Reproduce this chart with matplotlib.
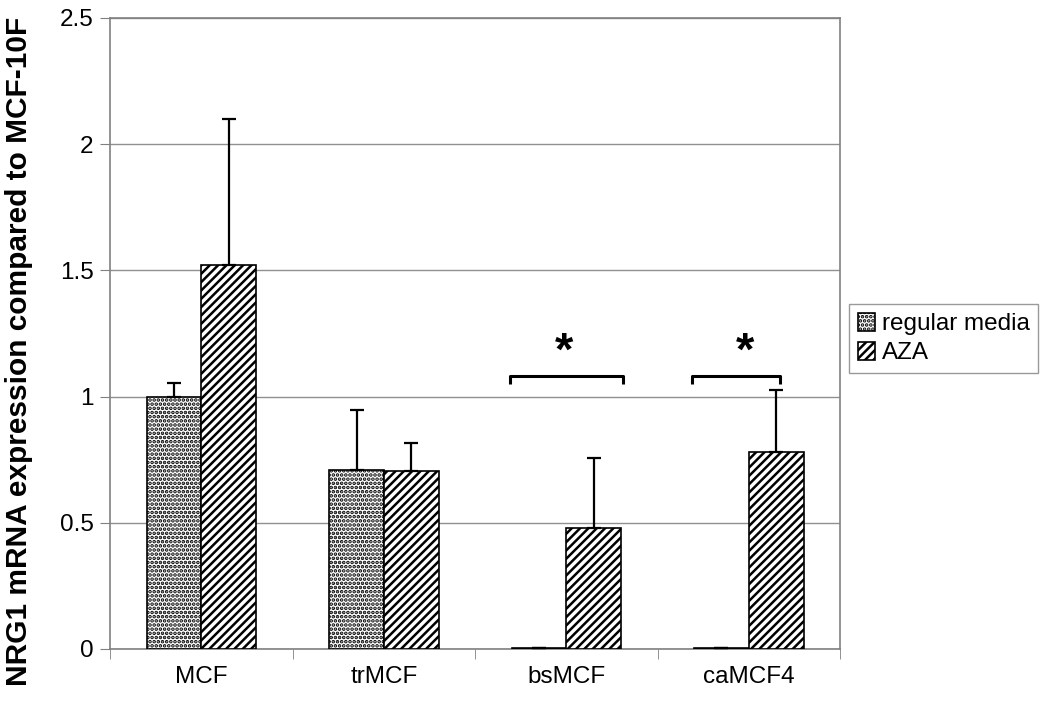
import numpy as np
import matplotlib
matplotlib.use('Agg')
import matplotlib.pyplot as plt

plt.rcParams['font.family'] = ['Liberation Sans', 'DejaVu Sans']
plt.rcParams['hatch.linewidth'] = 1.8

categories = ['MCF', 'trMCF', 'bsMCF', 'caMCF4']
regular = [1.0, 0.71, 0.005, 0.002]
regular_err = [0.055, 0.235, 0.0, 0.0]
aza = [1.52, 0.705, 0.48, 0.78]
aza_err = [0.58, 0.11, 0.277, 0.245]
# significance brackets: (left x, right x, star x, height)
signif = [(1.69, 2.31, 1.99, 1.08), (2.69, 3.17, 2.98, 1.08)]

fig = plt.figure(figsize=(10.5, 7.02), dpi=100)
ax = fig.add_axes([0.105, 0.0755, 0.695, 0.899])

x = np.arange(len(categories))
w = 0.30
ax.bar(x - w / 2, regular, w, color='white', edgecolor='black', hatch='....',
       linewidth=1.2, yerr=[np.zeros(4), regular_err], capsize=5,
       error_kw=dict(elinewidth=1.6, capthick=1.6, ecolor='black'),
       label='regular media', zorder=3)
ax.bar(x + w / 2, aza, w, color='white', edgecolor='black', hatch='////',
       linewidth=1.2, yerr=[np.zeros(4), aza_err], capsize=5,
       error_kw=dict(elinewidth=1.6, capthick=1.6, ecolor='black'),
       label='AZA', zorder=3)

for xl, xr, xs, h in signif:
    ax.plot([xl, xl, xr, xr], [h - 0.032, h, h, h - 0.032], color='black',
            lw=2.2, solid_capstyle='butt', zorder=4)
    ax.text(xs, h + 0.095, '*', ha='center', va='center',
            fontsize=34, fontweight='bold')

ax.set_xlim(-0.5, 3.5)
ax.set_ylim(0, 2.5)
ax.set_yticks(np.arange(0, 2.51, 0.5))
ax.set_yticklabels(['0', '0.5', '1', '1.5', '2', '2.5'], fontsize=17.5)
ax.set_xticks(x)
ax.set_xticklabels(categories, fontsize=17.5)
ax.tick_params(axis='x', which='major', length=0, pad=12)
ax.set_xticks(np.arange(-0.5, 3.6, 1), minor=True)
ax.tick_params(axis='x', which='minor', length=7, color='#808080')
ax.tick_params(axis='y', length=7, color='#808080', pad=5)
ax.yaxis.grid(True, color='#909090', lw=1)
ax.set_axisbelow(True)
for s in ax.spines.values():
    s.set_color('#808080')
    s.set_linewidth(1.2)
fig.text(0.018, 0.5, 'NRG1 mRNA expression compared to MCF-10F', fontsize=21.5,
         fontweight='bold', rotation=90, ha='center', va='center')

fig.legend(loc='upper left', bbox_to_anchor=(0.797, 0.584), fontsize=17.5,
           frameon=True, fancybox=False, edgecolor='#808080',
           handlelength=0.7, handleheight=0.8, handletextpad=0.3,
           borderpad=0.35, labelspacing=0.25)

fig.savefig('out.png', dpi=100)
